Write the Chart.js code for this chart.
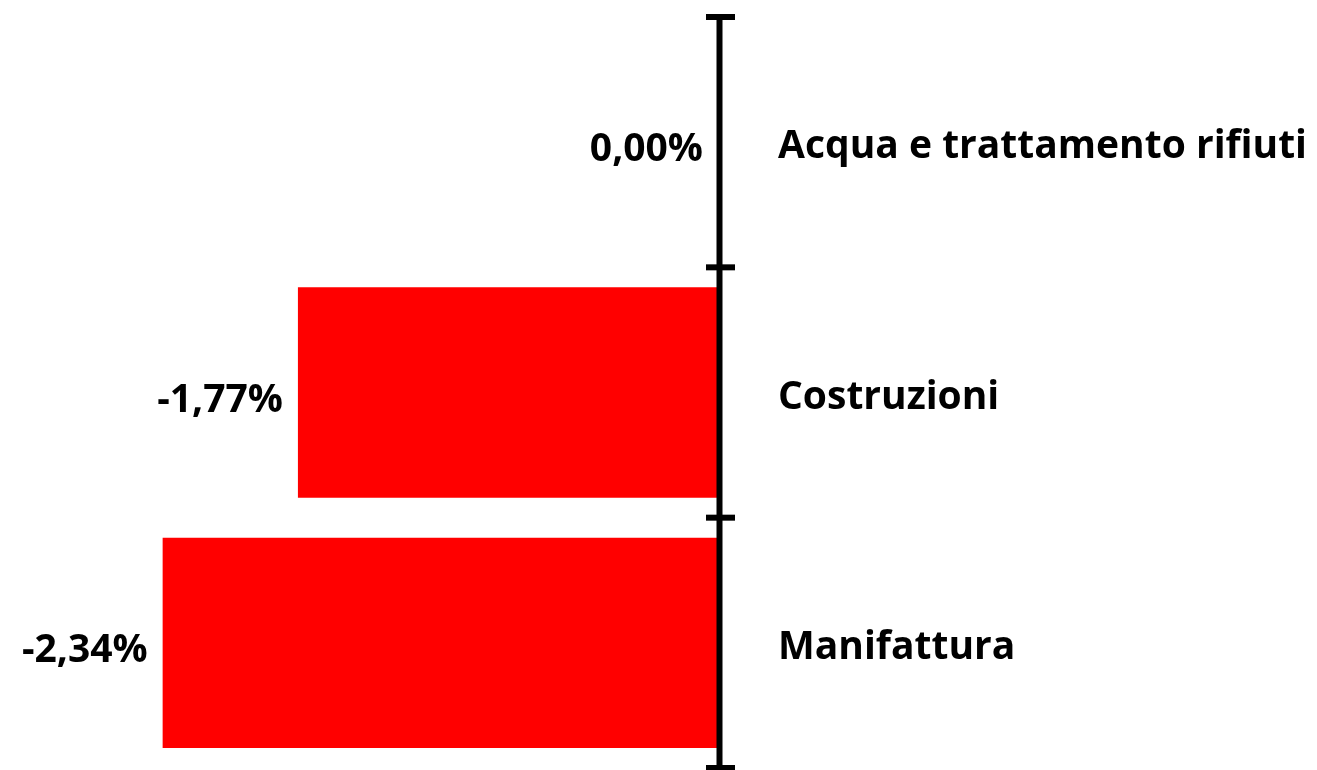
<!DOCTYPE html>
<html>
<head>
<meta charset="utf-8">
<script src="https://cdn.jsdelivr.net/npm/chart.js@4/dist/chart.umd.min.js"></script>
<style>
html,body{margin:0;padding:0;background:#fff;}
#wrap{width:1317px;height:770px;position:relative;}
</style>
</head>
<body>
<div id="wrap"><canvas id="c" width="1317" height="770"></canvas></div>
<script>
const categories = ["Acqua e trattamento rifiuti", "Costruzioni", "Manifattura"];
const values = [0.00, -1.77, -2.34];
const valueLabels = ["0,00%", "-1,77%", "-2,34%"];
const barColor = "#FF0000";
const FONT = "'Open Sans'";
const FSIZE = 39;

const axisPlugin = {
  id: 'axisCross',
  afterDatasetsDraw(chart) {
    const ctx = chart.ctx;
    const x = chart.scales.x.getPixelForValue(0);
    const y = chart.scales.y;
    const top = chart.chartArea.top, bottom = chart.chartArea.bottom;
    ctx.save();
    ctx.strokeStyle = '#000';
    ctx.lineWidth = 6;
    ctx.beginPath();
    ctx.moveTo(x + 1.5, top - 3);
    ctx.lineTo(x + 1.5, bottom + 3);
    ctx.stroke();
    const n = categories.length;
    for (let i = 0; i <= n; i++) {
      const yy = y.getPixelForValue(i - 0.5);
      ctx.beginPath();
      ctx.moveTo(x - 12, yy);
      ctx.lineTo(x + 17, yy);
      ctx.stroke();
    }
    ctx.fillStyle = '#000';
    ctx.font = 'bold ' + FSIZE + 'px ' + FONT;
    ctx.textAlign = 'right';
    ctx.textBaseline = 'middle';
    const meta = chart.getDatasetMeta(0);
    meta.data.forEach((bar, i) => {
      const left = Math.min(bar.x, bar.base);
      ctx.fillText(valueLabels[i], left - 15, bar.y + 8);
    });
    ctx.restore();
  }
};

new Chart(document.getElementById('c'), {
  type: 'bar',
  data: {
    labels: categories,
    datasets: [{
      data: values,
      backgroundColor: barColor,
      borderWidth: 0,
      categoryPercentage: 1.0,
      barPercentage: 0.84
    }]
  },
  options: {
    indexAxis: 'y',
    responsive: false,
    animation: false,
    layout: { padding: { left: 6, top: 17, bottom: 2, right: 0 } },
    plugins: { legend: { display: false }, tooltip: { enabled: false } },
    scales: {
      x: {
        display: false,
        min: -3,
        max: 0
      },
      y: {
        position: 'right',
        grid: { display: false, drawTicks: false },
        border: { display: false },
        afterFit(scale) { scale.width = 599; scale.paddingTop = 0; scale.paddingBottom = 0; },
        ticks: {
          padding: 60,
          labelOffset: 5,
          color: '#000',
          crossAlign: 'near',
          font: { family: FONT, size: FSIZE, weight: 'bold' }
        }
      }
    }
  },
  plugins: [axisPlugin]
});
</script>
</body>
</html>
